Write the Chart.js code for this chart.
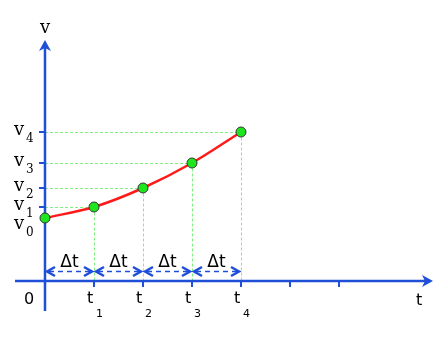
<!DOCTYPE html>
<html>
<head>
<meta charset="utf-8">
<title>v-t graph</title>
<script src="https://cdn.jsdelivr.net/npm/chart.js@4.4.1/dist/chart.umd.min.js"></script>
<style>
  html, body { margin: 0; padding: 0; background: #fff; }
  canvas { display: block; }
</style>
</head>
<body>
<canvas id="vtChart" width="448" height="339"></canvas>
<script>
  // data
  const tValues = [0, 1, 2, 3, 4];
  const vValues = [6.3, 7.4, 9.3, 11.8, 14.9];
  const tTickValues = [1, 2, 3, 4, 5, 6];
  const tTickSubs = ["1", "2", "3", "4"];
  const vSubs = ["0", "1", "2", "3", "4"];
  const intervalLabel = "\u0394t";

  const AXIS = "#1f4fd8";
  const GRID = "#80ee80";
  const SERIF = "'DejaVu Serif', serif";
  const SANS = "'DejaVu Sans', sans-serif";

  function chevron(ctx, x, y, dir) {
    ctx.beginPath();
    ctx.moveTo(x - dir * 8, y - 4.5);
    ctx.lineTo(x, y);
    ctx.lineTo(x - dir * 8, y + 4.5);
    ctx.stroke();
  }

  const diagramPlugin = {
    id: "diagram",
    beforeDatasetsDraw(chart) {
      const ctx = chart.ctx;
      const xs = chart.scales.x;
      const ys = chart.scales.y;
      const x0 = xs.getPixelForValue(0);
      const y0 = ys.getPixelForValue(0);
      const area = chart.chartArea;

      ctx.save();

      // dashed guide lines
      ctx.strokeStyle = GRID;
      ctx.lineWidth = 1;
      ctx.setLineDash([3, 2]);
      tValues.forEach((t, i) => {
        const px = Math.round(xs.getPixelForValue(t)) + 0.5;
        const py = Math.round(ys.getPixelForValue(vValues[i])) + 0.5;
        if (i > 0) {
          ctx.beginPath();
          ctx.moveTo(x0, py);
          ctx.lineTo(px, py);
          ctx.moveTo(px, py);
          ctx.lineTo(px, y0);
          ctx.stroke();
        }
      });
      ctx.setLineDash([]);

      // axes
      ctx.strokeStyle = AXIS;
      ctx.fillStyle = AXIS;
      ctx.lineWidth = 2.5;
      ctx.beginPath();
      ctx.moveTo(area.left, y0);
      ctx.lineTo(area.right - 4, y0);
      ctx.moveTo(x0, area.bottom);
      ctx.lineTo(x0, area.top + 4);
      ctx.stroke();

      // arrow heads
      ctx.beginPath();
      ctx.moveTo(x0, area.top);
      ctx.lineTo(x0 - 6, area.top + 11);
      ctx.lineTo(x0, area.top + 8);
      ctx.lineTo(x0 + 6, area.top + 11);
      ctx.closePath();
      ctx.fill();
      ctx.beginPath();
      ctx.moveTo(area.right, y0);
      ctx.lineTo(area.right - 11, y0 - 6);
      ctx.lineTo(area.right - 8, y0);
      ctx.lineTo(area.right - 11, y0 + 6);
      ctx.closePath();
      ctx.fill();

      // ticks
      ctx.lineWidth = 2;
      ctx.beginPath();
      tTickValues.forEach((t) => {
        const px = xs.getPixelForValue(t);
        ctx.moveTo(px, y0);
        ctx.lineTo(px, y0 + 6);
      });
      vValues.slice(1).forEach((v) => {
        const py = ys.getPixelForValue(v);
        ctx.moveTo(x0, py);
        ctx.lineTo(x0 - 6, py);
      });
      ctx.stroke();

      // delta t arrows
      const arrowY = y0 - 9.5;
      for (let i = 0; i < tValues.length - 1; i++) {
        const a = xs.getPixelForValue(tValues[i]) + 2;
        const b = xs.getPixelForValue(tValues[i + 1]) - 2;
        ctx.lineWidth = 1.5;
        ctx.setLineDash([5, 4]);
        ctx.beginPath();
        ctx.moveTo(a + 2, arrowY);
        ctx.lineTo(b - 2, arrowY);
        ctx.stroke();
        ctx.setLineDash([]);
        ctx.lineWidth = 2.5;
        chevron(ctx, a, arrowY, -1);
        chevron(ctx, b, arrowY, 1);

        ctx.fillStyle = "#000";
        ctx.font = "17px " + SANS;
        ctx.textAlign = "center";
        ctx.textBaseline = "alphabetic";
        ctx.fillText(intervalLabel, (a + b) / 2, y0 - 14);
        ctx.fillStyle = AXIS;
      }

      // text
      ctx.fillStyle = "#000";
      ctx.textBaseline = "alphabetic";

      ctx.font = "18px " + SERIF;
      ctx.textAlign = "center";
      ctx.fillText("v", x0, 33);

      ctx.font = "16px " + SANS;
      ctx.textAlign = "left";
      ctx.fillText("t", 416, y0 + 24);
      ctx.fillText("0", 24, y0 + 23);

      tTickSubs.forEach((s, i) => {
        const px = xs.getPixelForValue(tValues[i + 1]);
        ctx.font = "16px " + SANS;
        ctx.textAlign = "left";
        ctx.fillText("t", px - 7, y0 + 22);
        ctx.font = "11px " + SANS;
        ctx.fillText(s, px + 2, y0 + 36);
      });

      vSubs.forEach((s, i) => {
        let py = ys.getPixelForValue(vValues[i]);
        if (i === 0) py += 8;
        ctx.font = "18px " + SERIF;
        ctx.textAlign = "left";
        ctx.fillText("v", 14, py + 3);
        ctx.font = "12px " + SERIF;
        ctx.fillText(s, 26, py + 10);
      });

      ctx.restore();
    },
  };

  new Chart(document.getElementById("vtChart"), {
    type: "line",
    data: {
      datasets: [
        {
          data: tValues.map((t, i) => ({ x: t, y: vValues[i] })),
          borderColor: "#ff1a1a",
          borderWidth: 2.5,
          cubicInterpolationMode: "monotone",
          pointRadius: 5,
          pointBackgroundColor: "#1ee61e",
          pointBorderColor: "#333",
          pointBorderWidth: 1,
        },
      ],
    },
    options: {
      responsive: false,
      animation: false,
      layout: { padding: { left: 15, right: 15, top: 40, bottom: 28 } },
      plugins: { legend: { display: false }, tooltip: { enabled: false } },
      scales: {
        x: { type: "linear", min: -0.612, max: 7.918, display: false },
        y: { type: "linear", min: -3, max: 24.1, display: false },
      },
    },
    plugins: [diagramPlugin],
  });
</script>
</body>
</html>
